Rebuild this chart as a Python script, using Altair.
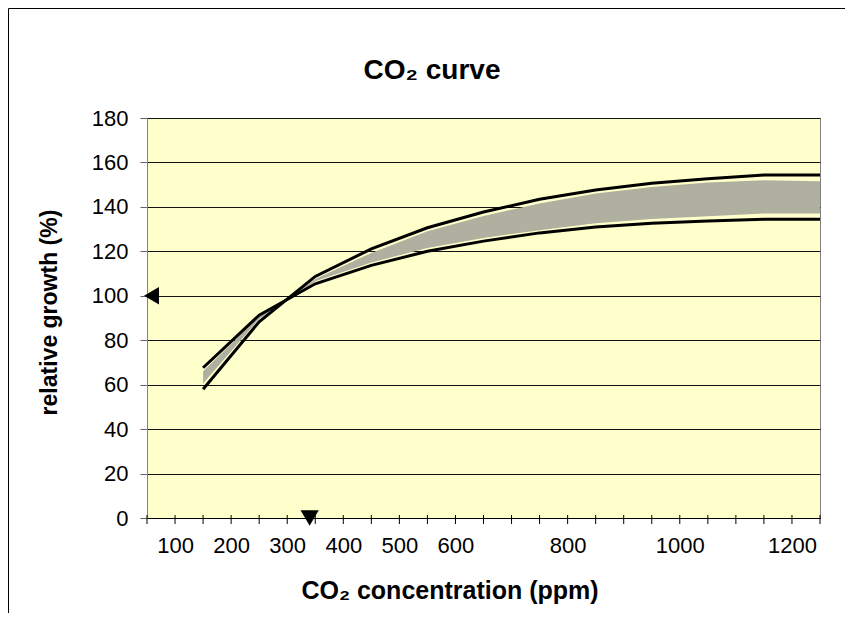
import altair as alt
import pandas as pd

# ---- data ----
ppm = [150, 250, 350, 450, 550, 650, 750, 850, 950, 1050, 1150, 1250]
curve_a = [67.6, 91.3, 105.4, 113.7, 120.0, 124.6, 128.3, 130.9, 132.6, 133.6, 134.4, 134.4]
curve_b = [57.9, 88.3, 108.7, 121.1, 130.6, 137.7, 143.4, 147.6, 150.6, 152.7, 154.3, 154.3]
band_lo = [60.5, 89.5, 106.5, 115.0, 121.5, 126.0, 129.5, 132.6, 134.5, 135.8, 137.0, 137.0]
band_hi = [66.0, 90.5, 107.5, 119.3, 129.0, 135.9, 141.5, 146.0, 149.0, 151.0, 152.0, 151.5]

x_labels = [100, 200, 300, 400, 500, 600, 800, 1000, 1200]
x_minor_ticks = [50, 100, 150, 200, 250, 300, 350, 400, 450, 500, 550, 600, 650,
                 700, 750, 800, 850, 900, 950, 1000, 1050, 1100, 1150, 1200, 1250]
y_ticks = [0, 20, 40, 60, 80, 100, 120, 140, 160, 180]

current_ppm = [340]
current_growth = [0]
ref_ppm = [58]
ref_growth = [100]

title_text = "CO\u2082 curve"
x_title = "CO\u2082 concentration (ppm)"
y_title = "relative growth (%)"

FONT = "Liberation Sans, Arial, sans-serif"
W, H = 673, 400

xs = alt.Scale(domain=[50, 1250], nice=False, zero=False)
ys = alt.Scale(domain=[0, 180], nice=False, zero=True)

x_axis = alt.Axis(values=x_labels, format="d", ticks=False, tickSize=0, labelPadding=17, grid=False,
                  domainColor="#000000", domainWidth=1.2, labelFontSize=22,
                  labelFont=FONT, labelColor="#000000", title=None, labelFlush=False)
y_axis = alt.Axis(values=y_ticks, format="d", tickSize=7, tickColor="#666666", labelPadding=12,
                  grid=True, gridColor="#111111", gridWidth=1, domainColor="#808080",
                  labelFontSize=22, labelFont=FONT, labelColor="#000000", title=None)

lines_df = pd.DataFrame({
    "ppm": ppm + ppm,
    "growth": curve_a + curve_b,
    "series": ["a"] * len(ppm) + ["b"] * len(ppm),
})
band_df = pd.DataFrame({"ppm": ppm, "lo": band_lo, "hi": band_hi})
ticks_df = pd.DataFrame({"ppm": x_minor_ticks})
cur_df = pd.DataFrame({"ppm": current_ppm, "growth": current_growth})
ref_df = pd.DataFrame({"ppm": ref_ppm, "growth": ref_growth})

band = alt.Chart(band_df).mark_area(color="#b0b0a0", opacity=1).encode(
    x=alt.X("ppm:Q", scale=xs, axis=x_axis),
    y=alt.Y("lo:Q", scale=ys, axis=y_axis),
    y2="hi:Q",
)

lines = alt.Chart(lines_df).mark_line(color="#000000", strokeWidth=3, strokeJoin="miter").encode(
    x=alt.X("ppm:Q", scale=xs, axis=x_axis),
    y=alt.Y("growth:Q", scale=ys, axis=y_axis),
    detail="series:N",
)

xticks = alt.Chart(ticks_df).mark_rule(color="#000000", strokeWidth=1).encode(
    x=alt.X("ppm:Q", scale=xs, axis=x_axis),
    y=alt.value(H - 3),
    y2=alt.value(H + 6),
)

cur_marker = alt.Chart(cur_df).mark_point(shape="triangle-down", filled=True, color="#000000",
                                          size=330, opacity=1).encode(
    x=alt.X("ppm:Q", scale=xs, axis=x_axis),
    y=alt.Y("growth:Q", scale=ys, axis=y_axis),
)

ref_marker = alt.Chart(ref_df).mark_point(shape="triangle-left", filled=True, color="#000000",
                                          size=300, opacity=1).encode(
    x=alt.X("ppm:Q", scale=xs, axis=x_axis),
    y=alt.Y("growth:Q", scale=ys, axis=y_axis),
)

one = pd.DataFrame({"t": [title_text], "xt": [x_title], "yt": [y_title]})

title_mark = alt.Chart(one).mark_text(font=FONT, fontSize=28, fontWeight="bold", align="center",
                                      baseline="alphabetic", color="#000000").encode(
    x=alt.value(285), y=alt.value(-39), text="t:N")

xtitle_mark = alt.Chart(one).mark_text(font=FONT, fontSize=25, fontWeight="bold", align="center",
                                       baseline="alphabetic", color="#000000").encode(
    x=alt.value(303), y=alt.value(481), text="xt:N")

ytitle_mark = alt.Chart(one).mark_text(font=FONT, fontSize=23, fontWeight="bold", align="center",
                                       baseline="alphabetic", angle=270, color="#000000").encode(
    x=alt.value(-90.5), y=alt.value(194.5), text="yt:N")

# outer chart frame: only its top and left edges fall inside the picture
frame_v = alt.Chart(one).mark_rule(color="#000000", strokeWidth=1).encode(
    x=alt.value(-138.5), x2=alt.value(-138.5), y=alt.value(-109.5), y2=alt.value(500))
frame_h = alt.Chart(one).mark_rule(color="#000000", strokeWidth=1).encode(
    x=alt.value(-138.5), x2=alt.value(700), y=alt.value(-109.5), y2=alt.value(-109.5))

chart = alt.layer(
    band, lines, xticks, cur_marker, ref_marker,
    title_mark, xtitle_mark, ytitle_mark, frame_v, frame_h,
).properties(
    width=W, height=H,
    autosize=alt.AutoSizeParams(type="none"),
    padding={"left": 139, "top": 110, "right": 25, "bottom": 95},
    background="#ffffff",
).configure_view(
    fill="#FFFFCC", stroke="#808080", strokeWidth=1,
)

chart.save("out.html", embed_options={"renderer": "svg", "actions": False})
